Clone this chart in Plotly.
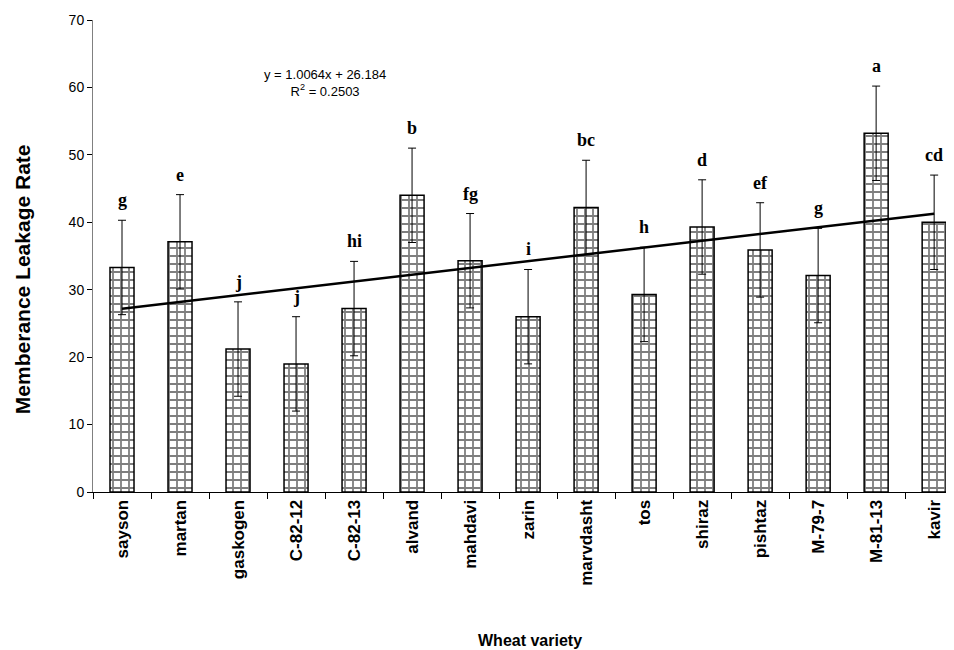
import plotly.graph_objects as go

varieties = ["sayson", "martan", "gaskogen", "C-82-12", "C-82-13", "alvand", "mahdavi",
             "zarin", "marvdasht", "tos", "shiraz", "pishtaz", "M-79-7", "M-81-13", "kavir"]
leakage = [33.3, 37.1, 21.2, 19.0, 27.2, 44.0, 34.3, 26.0, 42.2, 29.3, 39.3, 35.9, 32.1, 53.2, 40.0]
errors = [7.0, 7.0, 7.0, 7.0, 7.0, 7.0, 7.0, 7.0, 7.0, 7.0, 7.0, 7.0, 7.0, 7.0, 7.0]
letters = ["g", "e", "j", "j", "hi", "b", "fg", "i", "bc", "h", "d", "ef", "g", "a", "cd"]
slope = 1.0064
intercept = 26.184
r_squared = 0.2503

fig = go.Figure()
fig.add_trace(go.Bar(
    x=varieties, y=leakage,
    marker=dict(color="white", line=dict(color="black", width=1.5),
                pattern=dict(shape="+", fgcolor="black", bgcolor="white", size=8, solidity=0.4)),
    error_y=dict(type="data", array=errors, visible=True, color="black", thickness=1, width=4),
    showlegend=False,
))

trend_x = [varieties[0], varieties[-1]]
trend_y = [slope * 1 + intercept, slope * len(varieties) + intercept]
fig.add_trace(go.Scatter(x=trend_x, y=trend_y, mode="lines",
                         line=dict(color="black", width=2.5), showlegend=False))

for v, val, err, lab in zip(varieties, leakage, errors, letters):
    fig.add_annotation(x=v, y=val + err, text=f"<b>{lab}</b>", showarrow=False, yanchor="bottom", yshift=8,
                       font=dict(family="Liberation Serif, Times New Roman, serif", size=18, color="black"))

fig.add_annotation(xref="paper", yref="paper", x=0.1945, y=0.8665, yanchor="middle",
                   text=f"y = {slope}x + {intercept}<br>R<sup>2</sup> = {r_squared}",
                   showarrow=False, align="center",
                   font=dict(family="Liberation Sans Narrow, Arial Narrow, Arial", size=13, color="black"))

fig.add_annotation(xref="paper", yref="paper", x=0.503, y=-0.3136, yanchor="middle",
                   text="<b>Wheat variety</b>", showarrow=False,
                   font=dict(family="Liberation Sans, Arial", size=16, color="black"))
fig.add_annotation(xref="paper", yref="paper", x=-0.0817, y=0.451, xanchor="center", yanchor="middle",
                   text="<b>Memberance Leakage Rate</b>", showarrow=False, textangle=-90,
                   font=dict(family="Liberation Sans, Arial", size=21, color="black"))

fig.update_layout(
    width=954, height=650, plot_bgcolor="white", paper_bgcolor="white",
    margin=dict(l=85, r=0, t=12, b=166),
    bargap=0.586,
    font=dict(family="Liberation Sans, Arial, sans-serif", color="black"),
    xaxis=dict(type="category", range=[-0.5, 14.48], tickangle=-90, ticks="outside",
               tickson="boundaries", ticklen=6, tickcolor="black",
               showline=True, linecolor="black", linewidth=1, automargin=False,
               tickfont=dict(size=17, family="Liberation Sans, Arial", weight="bold")),
    yaxis=dict(range=[0, 70], dtick=10, ticks="outside", ticklen=5, tickcolor="black", showline=True,
               linecolor="gray", linewidth=1, showgrid=False, zeroline=False, automargin=False,
               tickfont=dict(size=14, family="Liberation Sans Narrow, Arial Narrow, Arial")),
)

fig.write_html("out.html")
